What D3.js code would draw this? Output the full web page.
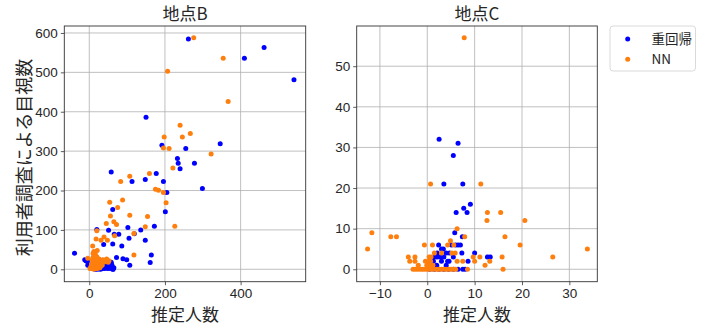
<!DOCTYPE html>
<html>
<head>
<meta charset="utf-8">
<script src="https://cdn.jsdelivr.net/npm/d3@7"></script>
<style>
  body { margin: 0; background: #fff; }
  svg { display: block; font-family: "Noto Sans CJK JP", "DejaVu Sans", sans-serif; }
</style>
</head>
<body>
<div id="chart"></div>
<script>
// ---- data: [推定人数, 目視数] pairs ----
const siteBReg = [
  [262, 585], [462, 563], [410, 536], [541, 481], [150, 386], [192, 315], [255, 307],
  [346, 319], [233, 281], [235, 269], [278, 269], [240, 255], [177, 243], [148, 228],
  [196, 223], [113, 223], [58, 247], [299, 205], [205, 195], [201, 146], [62, 152],
  [172, 109], [136, 100], [102, 106], [51, 99], [20, 101], [119, 90], [148, 74],
  [105, 79], [78, 89], [66, 89], [38, 63], [62, 64], [86, 59], [72, 30], [89, 27],
  [99, 24], [107, 10], [164, 36], [161, 17], [-39, 41], [-12, 24], [-9, 22], [-4, 10],
  [-5, 20], [63, 0], [20, 0], [25, 4], [30, 6], [35, 8], [40, 2], [45, 6], [50, 4],
  [55, 2], [60, 10], [65, 4], [32, 12], [36, 16], [42, 14], [48, 12], [54, 14], [28, 2],
  [58, 18], [62, 0], [40, 14], [45, 10], [50, 12], [55, 8], [60, 6], [42, 4], [35, 2],
  [30, 0], [25, 1], [48, 2], [52, 18], [58, 14], [38, 8], [15, 0], [44, 20], [33, 6]
];
const siteBNN = [
  [276, 588], [354, 536], [207, 503], [367, 426], [240, 366], [267, 345], [198, 336],
  [246, 336], [196, 308], [211, 307], [322, 293], [221, 257], [159, 243], [107, 236],
  [83, 223], [175, 203], [183, 201], [196, 195], [88, 176], [54, 170], [203, 169],
  [75, 157], [107, 137], [56, 135], [154, 134], [65, 121], [72, 114], [45, 116],
  [226, 109], [148, 108], [20, 98], [39, 82], [67, 85], [18, 77], [31, 74], [48, 74],
  [118, 91], [118, 36], [9, 59], [21, 48], [-4, 28], [12, 38], [16, 30], [10, 22],
  [14, 15], [18, 8], [8, 4], [12, 0], [22, 2], [26, 12], [30, 18], [35, 22], [40, 20],
  [45, 24], [50, 18], [24, 6], [6, 12], [16, 20], [28, 4], [34, 10], [20, 26], [5, 2],
  [10, 40], [12, 45], [14, 35], [15, 28], [8, 25], [18, 22], [22, 18], [25, 22],
  [28, 16], [32, 20], [36, 24], [38, 18], [42, 22], [46, 26], [48, 20], [52, 22],
  [12, 12], [16, 10], [20, 14], [24, 8], [10, 6], [14, 4], [6, 8], [8, 16], [18, 2],
  [30, 8], [26, 26], [20, 32], [16, 38], [4, 6], [2, 2], [10, 30], [14, 22], [22, 24]
];
const siteCReg = [
  [2.5, 32], [6.5, 31], [5.5, 28], [3.5, 21], [7.5, 21], [9.1, 16], [7.7, 15], [6.1, 14],
  [8.4, 14], [5.8, 9], [7.4, 8], [2.4, 6], [6, 6], [6.5, 6], [7, 6], [5.1, 6], [3, 5],
  [3.4, 5], [7.3, 4], [10, 4], [2.1, 4], [4, 4], [4.7, 4], [1.6, 3], [2.1, 3], [2.7, 3],
  [3.5, 3], [5.5, 3], [12.7, 3], [13.3, 3], [1.3, 2], [4.3, 2], [4.6, 2], [8.6, 2],
  [0.5, 0], [1.5, 0], [2.5, 0], [3.5, 0], [4.5, 0], [5.5, 0], [6.5, 0], [7.5, 0],
  [8, 0], [1, 1], [2, 1], [3, 2], [4, 1]
];
const siteCNN = [
  [7.8, 57], [0.7, 21], [11.3, 21], [12.7, 14], [15.5, 14], [12.6, 12], [20.6, 12],
  [6.3, 10], [-11.7, 9], [-7.7, 8], [-6.5, 8], [7.9, 8], [16.4, 8], [4.9, 7], [19.6, 6],
  [-0.6, 6], [1.1, 6], [4.3, 6], [5.6, 6], [-12.6, 5], [33.8, 5], [1.5, 4], [3, 4],
  [5.2, 4], [5.9, 4], [-4, 3], [-2.6, 3], [0.4, 3], [0.8, 3], [9.7, 3], [11.1, 3],
  [15.8, 3], [26.5, 3], [-3.7, 2], [-2.6, 2], [-0.4, 2], [0.3, 2], [0.7, 2], [6.3, 2],
  [7.5, 2], [10, 2], [13.2, 2], [12.2, 1], [-1.9, 1], [-0.1, 1], [0.6, 1], [1.2, 1],
  [16, 0], [-3, 0], [-2.5, 0], [-2, 0], [-1.5, 0], [-1, 0], [-0.5, 0], [0, 0], [0.5, 0],
  [1, 0], [1.5, 0], [2, 0], [2.5, 0], [3, 0], [3.5, 0], [4, 0], [4.5, 0], [5, 0],
  [5.5, 0], [6, 0], [8.5, 0]
];

const seriesNames = ["重回帰", "NN"];
const titles = ["地点B", "地点C"];
const xTicksB = [0, 200, 400];
const yTicksB = [0, 100, 200, 300, 400, 500, 600];
const xTicksC = [-10, 0, 10, 20, 30];
const yTicksC = [0, 10, 20, 30, 40, 50];

const COLOR = { reg: "#0000ff", nn: "#ff7f0e", grid: "#b0b0b0", axis: "#333", text: "#262626" };

const width = 703, height = 327;
const svg = d3.select("#chart").append("svg")
  .attr("width", width).attr("height", height);

// draw one scatter panel
function panel(box, xDom, yDom, xTicks, yTicks, title, reg, nn) {
  const x = d3.scaleLinear().domain(xDom).range([box.left, box.right]);
  const y = d3.scaleLinear().domain(yDom).range([box.bottom, box.top]);
  const g = svg.append("g");

  // grid
  g.append("g").selectAll("line").data(xTicks).join("line")
    .attr("x1", d => x(d)).attr("x2", d => x(d))
    .attr("y1", box.top).attr("y2", box.bottom)
    .attr("stroke", COLOR.grid).attr("stroke-width", 0.8);
  g.append("g").selectAll("line").data(yTicks).join("line")
    .attr("y1", d => y(d)).attr("y2", d => y(d))
    .attr("x1", box.left).attr("x2", box.right)
    .attr("stroke", COLOR.grid).attr("stroke-width", 0.8);

  // points: blue first, orange on top
  g.append("g").selectAll("circle").data(reg).join("circle")
    .attr("cx", d => x(d[0])).attr("cy", d => y(d[1])).attr("r", 2.5)
    .attr("fill", COLOR.reg);
  g.append("g").selectAll("circle").data(nn).join("circle")
    .attr("cx", d => x(d[0])).attr("cy", d => y(d[1])).attr("r", 2.5)
    .attr("fill", COLOR.nn);

  // axes
  const ax = g.append("g").attr("transform", `translate(0,${box.bottom})`)
    .call(d3.axisBottom(x).tickValues(xTicks).tickSize(3.5).tickPadding(3)
      .tickFormat(d => d < 0 ? "\u2212" + Math.abs(d) : d));
  const ay = g.append("g").attr("transform", `translate(${box.left},0)`)
    .call(d3.axisLeft(y).tickValues(yTicks).tickSize(3.5).tickPadding(3));
  [ax, ay].forEach(a => {
    a.select(".domain").remove();
    a.selectAll("line").attr("stroke", COLOR.axis).attr("stroke-width", 0.8);
    a.selectAll("text").attr("font-size", 13.5).attr("fill", COLOR.text)
      .attr("font-family", "Liberation Sans, Arial, sans-serif");
  });

  g.append("rect")
    .attr("x", box.left).attr("y", box.top)
    .attr("width", box.right - box.left).attr("height", box.bottom - box.top)
    .attr("fill", "none").attr("stroke", COLOR.axis).attr("stroke-width", 0.9);

  g.append("text")
    .attr("x", (box.left + box.right) / 2).attr("y", 19.5)
    .attr("text-anchor", "middle").attr("font-size", 17).attr("fill", COLOR.text)
    .text(title);
  g.append("text")
    .attr("x", (box.left + box.right) / 2).attr("y", 320.8)
    .attr("text-anchor", "middle").attr("font-size", 17).attr("fill", COLOR.text)
    .text("推定人数");
}

panel({ left: 64.3, right: 305.7, top: 26, bottom: 281.7 }, [-66, 572], [-31.5, 617.7],
  xTicksB, yTicksB, titles[0], siteBReg, siteBNN);
panel({ left: 356.7, right: 597.3, top: 26, bottom: 281.7 }, [-14.9, 35.9], [-3.06, 59.9],
  xTicksC, yTicksC, titles[1], siteCReg, siteCNN);

// y label
svg.append("text")
  .attr("transform", "translate(31,157.5) rotate(-90)")
  .attr("text-anchor", "middle").attr("font-size", 18).attr("fill", COLOR.text)
  .text("利用者調査による目視数");

// legend
const lg = svg.append("g");
lg.append("rect")
  .attr("x", 610).attr("y", 26).attr("width", 85.5).attr("height", 45).attr("rx", 3)
  .attr("fill", "#fff").attr("stroke", "#d0d0d0").attr("stroke-width", 0.8);
[COLOR.reg, COLOR.nn].forEach((c, i) => {
  lg.append("circle").attr("cx", 627.7).attr("cy", 39 + i * 20.3).attr("r", 2.5).attr("fill", c);
  lg.append("text").attr("x", 651.5).attr("y", 39 + i * 20.3).attr("dy", "0.35em")
    .attr("font-size", 13.5).attr("fill", COLOR.text).text(seriesNames[i]);
});
</script>
</body>
</html>
